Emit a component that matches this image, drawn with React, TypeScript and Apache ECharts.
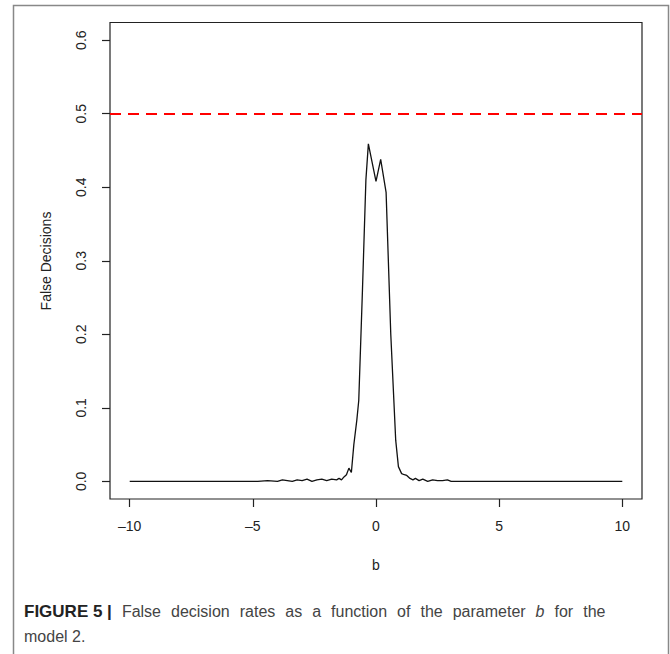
import React, { useEffect, useRef } from "react";
import * as echarts from "echarts";

// Parameter b (x) and false decision rate (y)
const bValues = [
  -10, -4.8, -4.4, -4.0, -3.8, -3.6, -3.4, -3.2, -3.0, -2.8, -2.6, -2.4, -2.2, -2.0,
  -1.8, -1.6, -1.5, -1.4, -1.3, -1.2, -1.1, -1.0, -0.9, -0.78, -0.7, -0.55, -0.41,
  -0.31, 0.0, 0.19, 0.41, 0.6, 0.8, 0.91, 1.04, 1.15, 1.25, 1.38, 1.5, 1.6, 1.75,
  1.9, 2.1, 2.3, 2.5, 2.7, 2.9, 3.05, 10,
];
const rates = [
  0, 0, 0.001, 0.0, 0.002, 0.001, 0.0, 0.002, 0.001, 0.003, 0.0, 0.002, 0.003, 0.001,
  0.003, 0.002, 0.004, 0.002, 0.006, 0.009, 0.018, 0.012, 0.05, 0.083, 0.11, 0.26, 0.41,
  0.459, 0.408, 0.438, 0.393, 0.2, 0.056, 0.02, 0.0105, 0.009, 0.008, 0.004, 0.002, 0.004,
  0.001, 0.003, 0.0, 0.002, 0.001, 0.001, 0.002, 0.0, 0,
];
const thresholdValue = [0.5];
const xTicks = [-10, -5, 0, 5, 10];
const yTicks = [0, 0.1, 0.2, 0.3, 0.4, 0.5, 0.6];
const captionWords = ["False", "decision", "rates", "as", "a", "function", "of", "the", "parameter"];
const captionTail = ["for", "the"];

export default function App() {
  const ref = useRef<HTMLDivElement>(null);
  useEffect(() => {
    if (!ref.current) return;
    const chart = echarts.init(ref.current, null, { renderer: "svg" });
    const data = bValues.map((b, i) => [b, rates[i]]);
    const font = "'Liberation Sans', Arial, Helvetica, sans-serif";
    const sp = "{s| }";
    const captionText =
      "{b|FIGURE 5 |}" +
      sp +
      captionWords.map((w) => "{r|" + w + "}").join(sp) +
      sp +
      "{i|b}" +
      sp +
      captionTail.map((w) => "{r|" + w + "}").join(sp);
    chart.setOption({
      animation: false,
      backgroundColor: "#fff",
      textStyle: { fontFamily: font },
      grid: {
        left: 110,
        top: 22.5,
        right: 28,
        bottom: 155,
        show: true,
        borderColor: "#222",
        borderWidth: 1.2,
        backgroundColor: "transparent",
        outerBoundsMode: "none",
      },
      xAxis: {
        type: "value",
        min: -10.8,
        max: 10.8,
        axisLine: { show: false, onZero: false },
        splitLine: { show: false },
        axisTick: {
          show: true,
          length: 8,
          customValues: xTicks,
          lineStyle: { color: "#222", width: 1.2 },
        },
        axisLabel: {
          customValues: xTicks,
          fontSize: 14,
          color: "#222",
          margin: 20,
          fontFamily: font,
          formatter: (v: number) => (v < 0 ? "\u2013" + Math.abs(v) : String(v)),
        },
      },
      yAxis: {
        type: "value",
        min: -0.024,
        max: 0.624,
        axisLine: { show: false, onZero: false },
        splitLine: { show: false },
        axisTick: {
          show: true,
          length: 8,
          customValues: yTicks,
          lineStyle: { color: "#222", width: 1.2 },
        },
        axisLabel: {
          customValues: yTicks,
          fontSize: 14,
          color: "#222",
          margin: 22,
          rotate: 90,
          fontFamily: font,
          formatter: (v: number) => v.toFixed(1),
        },
      },
      series: [
        {
          type: "line",
          data,
          showSymbol: false,
          symbol: "none",
          lineStyle: { color: "#111", width: 1.3 },
          markLine: {
            silent: true,
            symbol: "none",
            label: { show: false },
            lineStyle: { color: "#ff0000", width: 2, type: [11, 7] },
            data: thresholdValue.map((v) => ({ yAxis: v })),
          },
        },
      ],
      graphic: [
        {
          type: "rect",
          shape: { x: 13.5, y: 5.5, width: 655, height: 700 },
          style: { fill: "none", stroke: "#888", lineWidth: 1.5 },
          silent: true,
        },
        {
          type: "text",
          x: 46,
          y: 261,
          rotation: Math.PI / 2,
          style: {
            text: "False Decisions",
            fontSize: 14,
            fill: "#222",
            fontFamily: font,
            align: "center",
            verticalAlign: "middle",
          },
        },
        {
          type: "text",
          x: 376,
          y: 565,
          style: {
            text: "b",
            fontSize: 14,
            fill: "#222",
            fontFamily: font,
            align: "center",
            verticalAlign: "middle",
          },
        },
        {
          type: "text",
          x: 24,
          y: 611,
          style: {
            text: captionText,
            verticalAlign: "middle",
            rich: {
              b: { fontSize: 17, fontWeight: "bold", fill: "#222", fontFamily: font },
              r: { fontSize: 16, fill: "#444", fontFamily: font },
              i: { fontSize: 16, fill: "#444", fontStyle: "italic", fontFamily: font },
              s: { fontSize: 16, width: 10, fill: "#444", fontFamily: font },
            },
          },
        },
        {
          type: "text",
          x: 24,
          y: 636,
          style: {
            text: "model 2.",
            fontSize: 16,
            fill: "#444",
            fontFamily: font,
            verticalAlign: "middle",
          },
        },
      ],
    });
    return () => chart.dispose();
  }, []);
  return (
    <div
      ref={ref}
      style={{ position: "fixed", left: 0, top: 0, width: 670, height: 654 }}
    />
  );
}
